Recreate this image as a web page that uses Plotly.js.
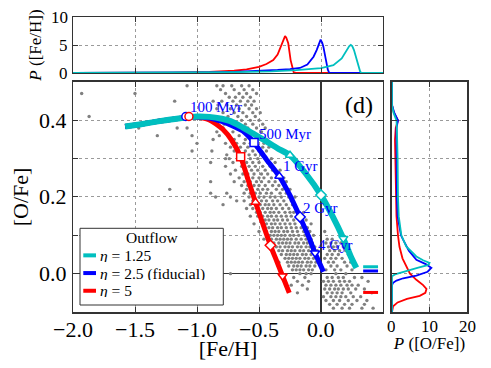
<!DOCTYPE html>
<html>
<head>
<meta charset="utf-8">
<script src="https://cdn.plot.ly/plotly-3.0.1.min.js"></script>
<style>
  html, body { margin: 0; padding: 0; background: #fff; }
  #chart { width: 491px; height: 368px; }
</style>
</head>
<body>
<div id="chart"></div>
<script>
  // model tracks in the [O/Fe]-[Fe/H] plane
  const cyanFeH = [-1.58, -1.45, -1.3, -1.15, -1.0, -0.9, -0.8, -0.73, -0.65, -0.55, -0.45, -0.35, -0.25, -0.125, 0.0, 0.09, 0.18, 0.24, 0.285];
  const cyanOFe = [0.384, 0.39, 0.398, 0.405, 0.41, 0.409, 0.404, 0.398, 0.385, 0.366, 0.347, 0.327, 0.309, 0.262, 0.205, 0.152, 0.092, 0.045, 0.015];
  const blueFeH = [-1.58, -1.45, -1.3, -1.15, -1.0, -0.9, -0.8, -0.73, -0.63, -0.54, -0.44, -0.336, -0.25, -0.17, -0.1, -0.048, 0.02];
  const blueOFe = [0.384, 0.39, 0.398, 0.405, 0.409, 0.406, 0.397, 0.388, 0.372, 0.342, 0.298, 0.254, 0.204, 0.148, 0.097, 0.054, 0.005];
  const redFeH = [-1.58, -1.45, -1.3, -1.15, -1.0, -0.95, -0.9, -0.85, -0.79, -0.724, -0.648, -0.588, -0.528, -0.468, -0.408, -0.355, -0.31, -0.256];
  const redOFe = [0.384, 0.39, 0.398, 0.405, 0.408, 0.406, 0.401, 0.391, 0.376, 0.35, 0.305, 0.245, 0.186, 0.129, 0.074, 0.031, -0.006, -0.05];
  const legendNames = ['<i>η</i> = 1.25', '<i>η</i> = 2.5 (fiducial)', '<i>η</i> = 5'];

  // age markers: 100 Myr, 500 Myr, 1 Gyr, 2 Gyr, 4 Gyr
  const ageLabels = ['100 Myr', '500 Myr', '1 Gyr', '2 Gyr', '4 Gyr'];
  const ageSymbols = ['circle', 'square', 'triangle-up', 'diamond', 'triangle-down'];
  const blueAgeFeH = [-1.09, -0.54, -0.336, -0.169, -0.048];
  const blueAgeOFe = [0.41, 0.342, 0.254, 0.148, 0.054];
  const redAgeFeH = [-1.065, -0.648, -0.528, -0.408, -0.31];
  const redAgeOFe = [0.41, 0.305, 0.186, 0.074, -0.006];
  const cyanAgeFeH = [-0.25, 0.0, 0.18];
  const cyanAgeOFe = [0.309, 0.205, 0.092];
  const labelFeH = [-0.847, -0.293, -0.163, -0.008, 0.115];
  const labelOFe = [0.435, 0.365, 0.28, 0.17, 0.075];

  // end-state [O/Fe] marks
  const eqFeH = [0.34, 0.46];
  const cyanEq = 0.018, blueEq = 0.007, redEq = -0.049;

  // tick labels
  const fehTicks = [-2, -1.5, -1, -0.5, 0];
  const fehTickText = ['−2.0', '−1.5', '−1.0', '−0.5', '0.0'];
  const ofeTicks = [0, 0.2, 0.4];
  const ofeTickText = ['0.0', '0.2', '0.4'];
  const mdfTicks = [0, 5, 10];
  const odfTicks = [0, 10, 20];

  // metallicity distribution functions (top)
  const mdfRedX = [-2.0, -1.6, -1.2, -0.9, -0.7, -0.6, -0.5, -0.44, -0.385, -0.35, -0.33, -0.31, -0.298, -0.29, -0.28, -0.264, -0.245, -0.23, -0.22, -0.2, 0.5];
  const mdfRedY = [0, 0.02, 0.08, 0.2, 0.4, 0.65, 1.1, 1.6, 2.3, 3.3, 4.4, 5.6, 6.4, 6.6, 6.3, 5.3, 2.3, 0.7, 0.1, 0, 0];
  const mdfBlueX = [-2.0, -1.6, -1.2, -0.9, -0.7, -0.5, -0.35, -0.25, -0.17, -0.11, -0.06, -0.035, -0.014, -0.003, 0.01, 0.019, 0.04, 0.055, 0.067, 0.5];
  const mdfBlueY = [0, 0.02, 0.06, 0.12, 0.2, 0.35, 0.55, 0.7, 0.9, 1.5, 2.9, 4.1, 5.6, 5.95, 5.4, 4.7, 2.3, 0.6, 0, 0];
  const mdfCyanX = [-2.0, -1.5, -1.0, -0.7, -0.4, -0.2, 0.0, 0.1, 0.167, 0.207, 0.228, 0.24, 0.252, 0.266, 0.28, 0.293, 0.315, 0.325, 0.5];
  const mdfCyanY = [0, 0.02, 0.08, 0.15, 0.3, 0.5, 0.85, 1.4, 2.6, 4.1, 4.8, 5.0, 4.8, 4.1, 3.0, 1.7, 0.3, 0, 0];

  // [O/Fe] distribution functions (right)
  const odfRedY = [0.5, 0.44, 0.42, 0.40, 0.38, 0.35, 0.3, 0.2, 0.15, 0.1, 0.07, 0.04, 0.02, 0.0, -0.016, -0.03, -0.04, -0.05, -0.058, -0.066, -0.075, -0.085, -0.1];
  const odfRedP = [0, 0, 0.5, 1.6, 1.0, 0.8, 0.9, 1.0, 1.2, 1.6, 2.0, 2.8, 3.8, 4.8, 6.5, 8.3, 9.2, 8.9, 7.4, 4.0, 1.5, 0.3, 0];
  const odfBlueY = [0.5, 0.44, 0.42, 0.40, 0.38, 0.35, 0.3, 0.2, 0.15, 0.1, 0.088, 0.06, 0.036, 0.025, 0.015, 0.005, -0.005, -0.012, -0.018, -0.024, -0.03, -0.1];
  const odfBlueP = [0, 0, 0.6, 1.6, 1.2, 1.2, 1.2, 1.3, 1.5, 2.4, 3.0, 4.5, 6.5, 9.0, 10.5, 9.5, 6.5, 3.0, 1.2, 0.3, 0, 0];
  const odfCyanY = [0.5, 0.44, 0.42, 0.40, 0.38, 0.35, 0.3, 0.2, 0.15, 0.1, 0.071, 0.045, 0.035, 0.028, 0.022, 0.016, 0.01, 0.004, -0.002, -0.007, -0.1];
  const odfCyanP = [0, 0, 0.4, 1.2, 1.3, 1.4, 1.5, 1.6, 1.8, 2.5, 3.8, 6.5, 8.3, 10.0, 9.5, 7.0, 4.7, 2.5, 0.8, 0, 0];

  // observed stars, one row per [O/Fe] value
  const starRows = [
    [0.49, [-1.08, -0.84, -0.79, -0.72, -0.64, -0.58]],
    [0.48, [-0.81, -0.70, -0.62, -0.55]],
    [0.47, [-1.93, -1.50, -0.77, -0.66, -0.60, -0.52]],
    [0.46, [-0.74, -0.69, -0.63, -0.57]],
    [0.45, [-1.18, -0.87, -0.80, -0.71, -0.65, -0.59, -0.54]],
    [0.44, [-0.83, -0.76, -0.68, -0.61, -0.56]],
    [0.43, [-0.84, -0.73, -0.66, -0.58, -0.52]],
    [0.42, [-0.79, -0.70, -0.63, -0.55, -0.49]],
    [0.41, [-1.87, -0.75, -0.67, -0.60, -0.53]],
    [0.40, [-0.81, -0.72, -0.64, -0.57, -0.50]],
    [0.39, [-0.78, -0.69, -0.61, -0.55, -0.47]],
    [0.38, [-1.47, -1.16, -1.08, -0.79, -0.66, -0.59, -0.52, -0.45]],
    [0.37, [-0.84, -0.71, -0.63, -0.56, -0.48]],
    [0.36, [-1.32, -1.04, -0.82, -0.74, -0.66, -0.58, -0.51]],
    [0.35, [-0.87, -0.70, -0.61, -0.55, -0.49, -0.44]],
    [0.34, [-1.00, -0.77, -0.68, -0.62, -0.57, -0.46]],
    [0.33, [-0.73, -0.65, -0.59, -0.52, -0.47, -0.42]],
    [0.32, [-1.04, -0.88, -0.70, -0.61, -0.55, -0.50, -0.44]],
    [0.31, [-0.76, -0.66, -0.58, -0.53, -0.48]],
    [0.30, [-0.77, -0.74, -0.63, -0.57, -0.51, -0.45, -0.40]],
    [0.29, [-0.89, -0.71, -0.60, -0.55, -0.50, -0.43, -0.37]],
    [0.28, [-0.77, -0.64, -0.58, -0.53, -0.47, -0.41]],
    [0.27, [-0.69, -0.61, -0.56, -0.51, -0.45, -0.39, -0.33]],
    [0.26, [-0.73, -0.63, -0.59, -0.54, -0.48, -0.43, -0.36]],
    [0.25, [-0.66, -0.60, -0.55, -0.50, -0.46, -0.40, -0.30]],
    [0.24, [-0.89, -0.70, -0.62, -0.57, -0.52, -0.48, -0.42, -0.37, -0.28]],
    [0.23, [-0.64, -0.59, -0.54, -0.50, -0.45, -0.39, -0.34]],
    [0.22, [-1.22, -0.60, -0.56, -0.51, -0.47, -0.43, -0.36, -0.31, -0.25]],
    [0.21, [-0.89, -0.76, -0.62, -0.57, -0.53, -0.49, -0.44, -0.40, -0.33, -0.28]],
    [0.20, [-0.85, -0.73, -0.58, -0.54, -0.50, -0.46, -0.41, -0.37, -0.32, -0.26, -0.21]],
    [0.19, [-0.68, -0.62, -0.55, -0.52, -0.48, -0.44, -0.39, -0.35, -0.30, -0.24]],
    [0.18, [-0.79, -0.57, -0.53, -0.49, -0.45, -0.42, -0.38, -0.33, -0.28, -0.23]],
    [0.17, [-0.60, -0.55, -0.51, -0.47, -0.43, -0.40, -0.36, -0.31, -0.26, -0.20]],
    [0.16, [-0.52, -0.49, -0.45, -0.41, -0.38, -0.34, -0.29, -0.25, -0.22, -0.14]],
    [0.15, [-0.57, -0.51, -0.47, -0.43, -0.40, -0.36, -0.32, -0.28, -0.24, -0.19]],
    [0.14, [-0.48, -0.45, -0.42, -0.38, -0.35, -0.31, -0.27, -0.22, -0.17, -0.12]],
    [0.13, [-0.54, -0.47, -0.44, -0.40, -0.37, -0.33, -0.29, -0.25, -0.21, -0.15, -0.08]],
    [0.12, [-0.45, -0.42, -0.39, -0.35, -0.32, -0.28, -0.24, -0.20, -0.16, -0.11]],
    [0.11, [-0.50, -0.44, -0.40, -0.37, -0.34, -0.30, -0.27, -0.23, -0.19, -0.14, -0.09, 0.03]],
    [0.10, [-0.41, -0.38, -0.35, -0.32, -0.29, -0.25, -0.22, -0.18, -0.13, -0.10, -0.06]],
    [0.09, [-0.46, -0.40, -0.36, -0.33, -0.30, -0.27, -0.24, -0.20, -0.16, -0.12, -0.08, 0.05, 0.09]],
    [0.08, [-0.38, -0.34, -0.31, -0.28, -0.25, -0.21, -0.18, -0.14, -0.11, -0.07, 0.04, 0.08, 0.12, 0.16]],
    [0.07, [-0.42, -0.36, -0.33, -0.29, -0.26, -0.23, -0.19, -0.16, -0.12, -0.09, -0.05, 0.06, 0.10, 0.13, 0.18]],
    [0.06, [-0.34, -0.31, -0.27, -0.24, -0.21, -0.17, -0.14, -0.10, -0.07, -0.03, 0.07, 0.11, 0.15, 0.20]],
    [0.05, [-0.38, -0.32, -0.28, -0.25, -0.22, -0.19, -0.15, -0.12, -0.08, -0.05, 0.05, 0.09, 0.14, 0.22]],
    [0.04, [-0.29, -0.26, -0.23, -0.20, -0.17, -0.13, -0.10, -0.06, -0.03, 0.03, 0.08, 0.12, 0.17]],
    [0.03, [-0.34, -0.27, -0.24, -0.21, -0.18, -0.15, -0.11, -0.08, -0.04, 0.06, 0.10, 0.19, 0.24]],
    [0.02, [-0.26, -0.22, -0.19, -0.16, -0.12, -0.09, -0.05, 0.08, 0.13, 0.21]],
    [0.01, [-0.23, -0.20, -0.17, -0.14, -0.10, -0.07, 0.04, 0.11, 0.16, 0.25]],
    [0.00, [-0.73, -0.17, -0.12, -0.08, 0.12, 0.20]],
    [-0.01, [-0.22, -0.13, 0.05, 0.09, 0.14, 0.18, 0.27, 0.33]],
    [-0.02, [-0.19, -0.10, 0.02, 0.06, 0.10, 0.15, 0.19, 0.23, 0.38]],
    [-0.03, [-0.24, -0.15, 0.04, 0.08, 0.12, 0.16, 0.21, 0.25, 0.30]],
    [-0.04, [-0.11, 0.03, 0.07, 0.11, 0.14, 0.18, 0.22, 0.28, 0.35]],
    [-0.05, [-0.19, 0.05, 0.09, 0.13, 0.17, 0.24, 0.41]],
    [-0.06, [0.02, 0.08, 0.12, 0.16, 0.20, 0.26, 0.32]],
    [-0.07, [0.04, 0.10, 0.15, 0.22, 0.29, 0.37]],
    [-0.08, [0.07, 0.13, 0.19, 0.25, 0.35]],
    [-0.09, [0.10, 0.17, 0.23, 0.33, 0.42]]
  ];

  const CYAN = '#00bfbf', BLUE = '#0000ff', RED = '#ff0000';
  const SERIF = 'Liberation Serif';

  let starFeH = [], starOFe = [];
  starRows.forEach(function (row) {
    row[1].forEach(function (x) {
      starFeH.push(x);
      starOFe.push(row[0]);
    });
  });

  function track(x, y, color, width) {
    return {
      x: x, y: y, mode: 'lines', showlegend: false,
      line: {color: color, width: width, shape: 'spline', smoothing: 0.5},
      xaxis: 'x', yaxis: 'y', hoverinfo: 'skip'
    };
  }

  function ages(x, y, symbols, color) {
    return {
      x: x, y: y, mode: 'markers', showlegend: false,
      marker: {symbol: symbols, size: 8, color: '#fff', line: {color: color, width: 1.5}},
      xaxis: 'x', yaxis: 'y', hoverinfo: 'skip'
    };
  }

  function eqMark(level, color) {
    return {
      x: eqFeH, y: [level, level], mode: 'lines', showlegend: false,
      line: {color: color, width: 3}, xaxis: 'x', yaxis: 'y', hoverinfo: 'skip'
    };
  }

  function dist(x, y, color, xa, ya) {
    return {
      x: x, y: y, mode: 'lines', showlegend: false,
      line: {color: color, width: 1.8}, xaxis: xa, yaxis: ya, hoverinfo: 'skip'
    };
  }

  // red first so the cyan track lies on top where they overlap
  const traces = [
    {x: starFeH, y: starOFe, mode: 'markers', showlegend: false,
     marker: {color: '#808080', size: 3.4}, xaxis: 'x', yaxis: 'y', hoverinfo: 'skip'},
    track(redFeH, redOFe, RED, 5),
    track(blueFeH, blueOFe, BLUE, 5),
    track(cyanFeH, cyanOFe, CYAN, 6),
    eqMark(cyanEq, CYAN),
    eqMark(blueEq, BLUE),
    eqMark(redEq, RED),
    ages(cyanAgeFeH, cyanAgeOFe, ageSymbols.slice(2), CYAN),
    ages(blueAgeFeH, blueAgeOFe, ageSymbols, BLUE),
    ages(redAgeFeH, redAgeOFe, ageSymbols, RED),
    dist(mdfRedX, mdfRedY, RED, 'x2', 'y2'),
    dist(mdfBlueX, mdfBlueY, BLUE, 'x2', 'y2'),
    dist(mdfCyanX, mdfCyanY, CYAN, 'x2', 'y2'),
    dist(odfRedP, odfRedY, RED, 'x3', 'y3'),
    dist(odfBlueP, odfBlueY, BLUE, 'x3', 'y3'),
    dist(odfCyanP, odfCyanY, CYAN, 'x3', 'y3')
  ];

  const frame = {
    showline: true, linecolor: '#333', linewidth: 1.5, mirror: 'ticks',
    ticks: 'inside', ticklen: 5, tickcolor: '#333', showticklabels: false,
    showgrid: true, gridcolor: '#9a9a9a', griddash: 'dot', gridwidth: 1,
    zeroline: false, automargin: false
  };

  const oGrid = [-0.1, 0, 0.1, 0.2, 0.3, 0.4, 0.5];

  function txt(text, size, color) {
    return {text: text, showarrow: false, font: {family: SERIF, size: size, color: color || '#000'}};
  }

  const annotations = [];

  // tick labels as text so they keep the serif face
  fehTicks.forEach(function (v, i) {
    annotations.push(Object.assign(txt(fehTickText[i], 22), {
      x: v, xref: 'x', y: 0, yref: 'paper', xanchor: 'center', yanchor: 'top', yshift: -6, height: 19
    }));
  });
  ofeTicks.forEach(function (v, i) {
    annotations.push(Object.assign(txt(ofeTickText[i], 22), {
      x: 0, xref: 'paper', y: v, yref: 'y', xanchor: 'right', yanchor: 'middle', xshift: -4, height: 19
    }));
  });
  mdfTicks.forEach(function (v) {
    annotations.push(Object.assign(txt(String(v), 17), {
      x: 0, xref: 'paper', y: v, yref: 'y2', xanchor: 'right', yanchor: 'middle', xshift: -3, height: 14
    }));
  });
  odfTicks.forEach(function (v) {
    annotations.push(Object.assign(txt(String(v), 17), {
      x: v, xref: 'x3', y: 0, yref: 'paper', xanchor: 'center', yanchor: 'top', yshift: -5, height: 14
    }));
  });

  ageLabels.forEach(function (t, i) {
    annotations.push(Object.assign(txt(t, 15, BLUE), {
      x: labelFeH[i], y: labelOFe[i], xref: 'x', yref: 'y', xanchor: 'center', yanchor: 'middle'
    }));
  });
  annotations.push(Object.assign(txt('(d)', 24), {
    x: 0.31, y: 0.441, xref: 'x', yref: 'y', xanchor: 'center', yanchor: 'middle'
  }));

  // legend box drawn by hand, in paper units of the plot area
  const legendColors = [CYAN, BLUE, RED];
  const legendRows = [0.192, 0.132, 0.072];
  const shapes = [{
    type: 'rect', xref: 'paper', yref: 'paper', x0: 0.0178, x1: 0.3815, y0: 0.0237, y1: 0.2837,
    line: {color: '#333', width: 1}, fillcolor: '#fff', layer: 'above'
  }];
  annotations.push(Object.assign(txt('Outflow', 15.5), {
    x: 0.2013, y: 0.252, xref: 'paper', yref: 'paper', xanchor: 'center', yanchor: 'middle', height: 13
  }));
  legendNames.forEach(function (name, i) {
    shapes.push({
      type: 'line', xref: 'paper', yref: 'paper', x0: 0.0261, x1: 0.0584,
      y0: legendRows[i], y1: legendRows[i], line: {color: legendColors[i], width: 4}, layer: 'above'
    });
    annotations.push(Object.assign(txt(name, 15.5), {
      x: 0.064, y: legendRows[i], xref: 'paper', yref: 'paper', xanchor: 'left', yanchor: 'middle', height: 13
    }));
  });

  const layout = {
    width: 491, height: 368,
    margin: {l: 73, r: 24, t: 17, b: 56},
    paper_bgcolor: '#fff', plot_bgcolor: '#fff',
    font: {family: SERIF, size: 22, color: '#000'},
    showlegend: false,
    xaxis: Object.assign({}, frame, {
      domain: [0, 0.7868], range: [-2, 0.5], anchor: 'y', tickvals: fehTicks,
      zeroline: true, zerolinecolor: '#333', zerolinewidth: 1.2,
      title: {text: '[Fe/H]', standoff: 28, font: {family: SERIF, size: 22}}
    }),
    yaxis: Object.assign({}, frame, {
      domain: [0, 0.7797], range: [-0.1, 0.5], anchor: 'x', tickvals: oGrid,
      zeroline: true, zerolinecolor: '#333', zerolinewidth: 1.2,
      title: {text: '[O/Fe]', standoff: 37, font: {family: SERIF, size: 22}}
    }),
    xaxis2: Object.assign({}, frame, {
      domain: [0, 0.7868], range: [-2, 0.5], anchor: 'y2', tickvals: [-1.5, -1, -0.5, 0]
    }),
    yaxis2: Object.assign({}, frame, {
      domain: [0.8102, 1], range: [0, 10], anchor: 'x2', tickvals: mdfTicks,
      title: {text: '<i>P</i> ([Fe/H])', standoff: 25, font: {family: SERIF, size: 17}}
    }),
    xaxis3: Object.assign({}, frame, {
      domain: [0.8096, 1], range: [0, 20], anchor: 'y3', tickvals: odfTicks,
      title: {text: '<i>P</i> ([O/Fe])', standoff: 24, font: {family: SERIF, size: 17}}
    }),
    yaxis3: Object.assign({}, frame, {
      domain: [0, 0.7797], range: [-0.1, 0.5], anchor: 'x3', tickvals: oGrid
    }),
    shapes: shapes,
    annotations: annotations
  };

  Plotly.newPlot('chart', traces, layout, {staticPlot: true, displayModeBar: false});
</script>
</body>
</html>
